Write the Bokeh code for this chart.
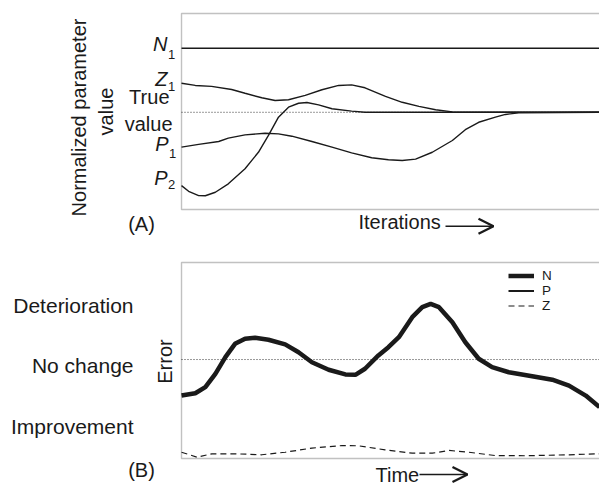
from bokeh.plotting import figure
from bokeh.models import (Range1d, Label, Arrow, OpenHead, Legend, LegendItem,
                          BoxAnnotation)
from bokeh.layouts import column
from bokeh.embed import file_html
from bokeh.resources import INLINE

# ---------------- Panel A: normalized parameter values vs iterations ----------------
ITER_SPAN = [0, 100]
TRUE_VALUE = 49.6

n1_iter = [0, 100]
n1_val = [82.3, 82.3]

z1_iter = [0, 3.3, 7.2, 12.0, 15.2, 19.2, 22.4, 25.6, 29.6, 33.6, 37.6, 40.7, 43.9,
           48.8, 52.8, 56.8, 60.8, 64.8, 69.5, 100]
z1_val = [64.4, 63.3, 62.8, 61.2, 59.3, 57.0, 55.6, 56.0, 58.2, 61.1, 63.3, 63.6, 62.1,
          57.7, 54.7, 52.6, 50.9, 49.8, 49.6, 49.6]

p1_iter = [0, 4.1, 8.9, 11.2, 15.2, 20.0, 23.2, 26.4, 31.2, 36.0, 40.7, 45.5, 49.5,
           52.8, 56.0, 60.0, 64.8, 67.9, 71.1, 75.1, 77.5, 80.7, 100]
p1_val = [31.8, 33.2, 34.7, 36.4, 38.1, 38.9, 38.6, 37.4, 34.7, 31.8, 28.9, 26.4, 25.4,
          25.0, 25.7, 29.2, 35.2, 40.7, 44.5, 47.1, 48.5, 49.3, 49.6]

p2_iter = [0, 1.7, 4.1, 5.7, 8.1, 11.2, 15.2, 18.4, 20.8, 23.2, 25.6, 28.0, 30.0,
           32.8, 36.0, 40.7, 43.9, 100]
p2_val = [12.2, 9.3, 7.1, 7.0, 8.8, 13.1, 20.8, 29.2, 37.8, 47.1, 52.2, 54.2, 54.6,
          53.4, 51.4, 50.2, 49.6, 49.6]

# ---------------- Panel B: error vs time ----------------
TIME_SPAN = [0, 100]
NO_CHANGE = 50.5

n_time = [0, 3.3, 5.7, 8.1, 10.5, 12.8, 15.2, 17.6, 20.8, 24.8, 28.0, 31.2, 35.2, 39.2,
          41.6, 43.9, 47.1, 49.5, 52.0, 55.2, 57.6, 59.6, 61.6, 64.8, 67.9, 71.1, 74.3,
          78.3, 83.9, 88.7, 92.7, 96.7, 100]
n_err = [32.1, 33.3, 36.4, 43.2, 51.7, 58.5, 61.1, 61.6, 60.6, 58.2, 54.2, 49.1, 45.3,
         42.9, 42.7, 45.8, 52.6, 56.8, 61.9, 72.1, 77.2, 78.9, 77.2, 69.5, 59.3, 50.9,
         46.6, 44.0, 42.0, 40.2, 37.2, 32.1, 26.2]

# P error is listed in the legend but not visible in the panel
p_time = [0, 100]
p_err = [float("nan"), float("nan")]

z_time = [0, 3.7, 7.3, 12.8, 19.2, 24.8, 31.2, 38.4, 42.3, 48.7, 55.2, 60.0, 64.0, 68.7,
          75.1, 82.3, 92.7, 100]
z_err = [3.2, 0.7, 2.4, 2.4, 1.9, 3.2, 5.3, 6.6, 6.5, 4.4, 2.7, 2.7, 4.1, 3.2, 1.5, 1.4,
         1.9, 2.4]

FONT = "Liberation Sans"
INK = "#1a1a1a"

# layout helpers: panel box spans x 181..599 px, 196 px tall; data 0..100 on both axes
def fx(px):
    return (px - 181) / 4.18

def ay(py):          # panel A box bottom at 209 px
    return (209 - py) / 1.96

def by(py):          # panel B box bottom at 458 px (page coords)
    return (458 - py) / 1.96


def make_fig(height, yfun, top_px):
    p = figure(width=599, height=height, output_backend="svg", toolbar_location=None,
               x_axis_type=None, y_axis_type=None, title=None,
               x_range=Range1d(fx(0), fx(599)),
               y_range=Range1d(yfun(top_px + height), yfun(top_px)),
               min_border=0)
    p.outline_line_color = None
    p.xgrid.visible = False
    p.ygrid.visible = False
    p.background_fill_color = "white"
    p.border_fill_color = "white"
    p.add_layout(BoxAnnotation(left=0, right=fx(620), bottom=0, top=100,
                               fill_alpha=0, line_color="#333333", line_width=1.4))
    return p


def lab(p, x, y, text, size="20px", align="right", style="normal", angle=0):
    p.add_layout(Label(x=x, y=y, text=text, text_font=FONT, text_font_size=size,
                       text_align=align, text_baseline="middle", text_color=INK,
                       text_font_style=style, angle=angle))


# ---------------- figure A ----------------
pa = make_fig(242, ay, 0)
pa.line(ITER_SPAN, [TRUE_VALUE, TRUE_VALUE], line_color="#333333", line_width=1,
        line_dash="1 2")
for xs, ys in ((n1_iter, n1_val), (z1_iter, z1_val), (p1_iter, p1_val), (p2_iter, p2_val)):
    pa.line(xs, ys, line_color=INK, line_width=1.4)

lab(pa, fx(167), ay(43.5), "N", style="italic")
lab(pa, fx(167.5), ay(53.5), "1", size="13px", align="left")
lab(pa, fx(167), ay(78.5), "Z", style="italic")
lab(pa, fx(167.5), ay(85.5), "1", size="13px", align="left")
lab(pa, fx(169), ay(96.5), "True")
lab(pa, fx(172), ay(123), "value")
lab(pa, fx(168), ay(143.5), "P", style="italic")
lab(pa, fx(168.5), ay(152.5), "1", size="13px", align="left")
lab(pa, fx(167), ay(177), "P", style="italic")
lab(pa, fx(167.5), ay(184), "2", size="13px", align="left")
lab(pa, fx(78), ay(117), "Normalized parameter", align="center", angle=1.5707963)
lab(pa, fx(105), ay(111), "value", align="center", angle=1.5707963)
lab(pa, fx(141), ay(223), "(A)", align="center")
lab(pa, fx(358), ay(221.5), "Iterations", align="left")
pa.add_layout(Arrow(end=OpenHead(size=15, line_width=2.3, line_color=INK),
                    x_start=fx(445), y_start=ay(225.7), x_end=fx(493), y_end=ay(225.7),
                    line_width=1.4, line_color=INK))

# ---------------- figure B ----------------
pb = make_fig(243, by, 242)
pb.line(TIME_SPAN, [NO_CHANGE, NO_CHANGE], line_color="#333333", line_width=1,
        line_dash="1 2")
rn = pb.line(n_time, n_err, line_color=INK, line_width=4.5)
rp = pb.line(p_time, p_err, line_color=INK, line_width=2)
rz = pb.line(z_time, z_err, line_color=INK, line_width=1.2, line_dash="6 4")

legend = Legend(items=[LegendItem(label="N", renderers=[rn]),
                       LegendItem(label="P", renderers=[rp]),
                       LegendItem(label="Z", renderers=[rz])],
                location=(508, 172), orientation="vertical",
                label_text_font=FONT, label_text_font_size="13.5px",
                label_text_color=INK, glyph_width=26, glyph_height=13,
                label_height=13, label_standoff=8, spacing=0, padding=0,
                margin=0, border_line_color=None, background_fill_alpha=0)
pb.add_layout(legend)

lab(pb, fx(133), by(305), "Deterioration", size="21px")
lab(pb, fx(133), by(365), "No change", size="21px")
lab(pb, fx(133), by(425.5), "Improvement", size="21px")
lab(pb, fx(164), by(361), "Error", align="center", angle=1.5707963)
lab(pb, fx(141), by(469), "(B)", align="center")
lab(pb, fx(375), by(474), "Time", align="left")
pb.add_layout(Arrow(end=OpenHead(size=15, line_width=2.3, line_color=INK),
                    x_start=fx(419), y_start=by(474), x_end=fx(467), y_end=by(474),
                    line_width=1.4, line_color=INK))

layout = column(pa, pb, spacing=0)
open("out.html", "w").write(file_html(layout, INLINE))
